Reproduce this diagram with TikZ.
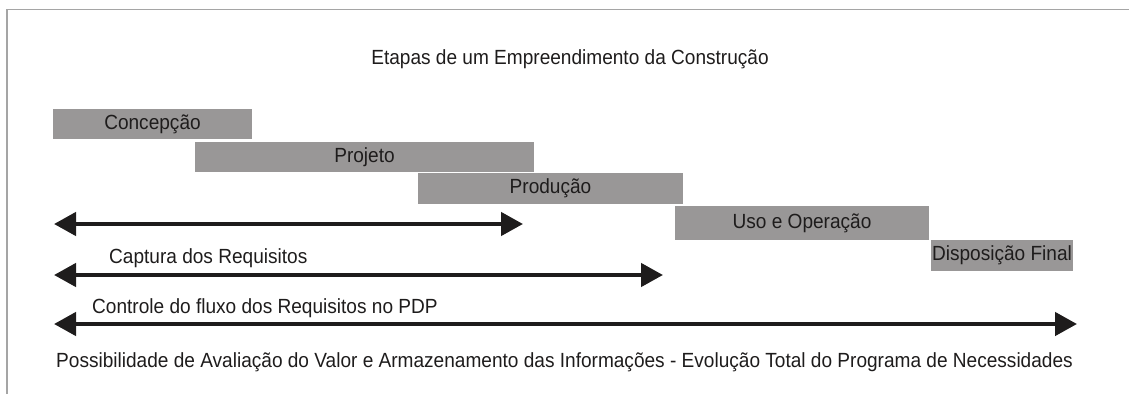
\documentclass[tikz,border=0pt]{standalone}
\usepackage{fontspec}
\setmainfont{Liberation Sans}[FakeStretch=0.93]
\usetikzlibrary{arrows.meta}
\definecolor{boxgray}{RGB}{153,151,151}
\definecolor{inkc}{RGB}{30,28,28}
\definecolor{framec}{RGB}{165,165,165}
\tikzset{
  stage/.style={fill=boxgray, draw=none, inner sep=0pt, text=inkc,
    font=\fontsize{20.5}{24}\selectfont},
  lbl/.style={inner sep=0pt, text=inkc, font=\fontsize{20.5}{24}\selectfont},
  bigarrow/.style={draw=inkc, line width=4.5pt,
    {Triangle[length=22pt,width=23pt]}-{Triangle[length=22pt,width=23pt]}},
  framel/.style={draw=framec, line width=1.5pt}
}
\begin{document}
\begin{tikzpicture}[x=1pt,y=-1pt]
\useasboundingbox (0,0) rectangle (1129,394);
% frame
\coordinate (fb) at (7,394);
\coordinate (fc) at (7,9.5);
\coordinate (fr) at (1129,9.5);
\draw[framel] (fb) -- (fc) -- (fr);
% title
\node[lbl, anchor=base] (title) at (570,64) {Etapas de um Empreendimento da Construção};
% stages
\node[stage, minimum width=199pt, minimum height=30pt] (conc) at (152.5,124) {Concepção};
\node[stage, minimum width=339pt, minimum height=30pt] (proj) at (364.5,157) {Projeto};
\node[stage, minimum width=265pt, minimum height=31pt] (prod) at (550.5,188.5) {Produção};
\node[stage, minimum width=254pt, minimum height=34pt] (uso) at (802,223) {Uso e Operação};
\node[stage, minimum width=142pt, minimum height=31pt] (disp) at (1002,255.5) {Disposição Final};
% arrows
\coordinate (a1l) at (54,224);
\coordinate (a1r) at (523,224);
\coordinate (a2l) at (54,275);
\coordinate (a2r) at (663,275);
\coordinate (a3l) at (54,324);
\coordinate (a3r) at (1077,324);
\draw[bigarrow] (a1l) -- (a1r);
\draw[bigarrow] (a2l) -- (a2r);
\draw[bigarrow] (a3l) -- (a3r);
% labels
\node[lbl, anchor=base west] (cap) at (109,263.5) {Captura dos Requisitos};
\node[lbl, anchor=base west] (ctl) at (92,313) {Controle do fluxo dos Requisitos no PDP};
\node[lbl, anchor=base west] (pos) at (56,367) {Possibilidade de Avaliação do Valor e Armazenamento das Informações - Evolução Total do Programa de Necessidades};
\end{tikzpicture}
\end{document}
